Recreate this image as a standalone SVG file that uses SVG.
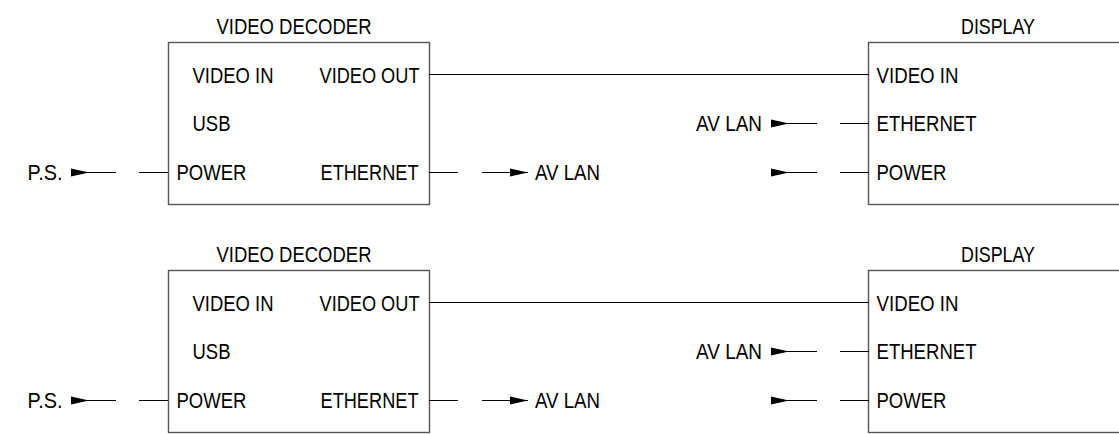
<svg xmlns="http://www.w3.org/2000/svg" width="1119" height="434" viewBox="0 0 1119 434">
<style>
text{font-family:"Liberation Sans",Arial,sans-serif;font-size:22px;fill:#000}
.box{fill:#fff;stroke:#555;stroke-width:1.4}
.ln{stroke:#000;stroke-width:1;fill:none}
</style>
<defs>
<marker id="hs" markerUnits="userSpaceOnUse" markerWidth="20" markerHeight="10" refX="0" refY="4" orient="auto" overflow="visible"><path d="M0,0 L18,4 L0,8 Z" fill="#000"/></marker>
<marker id="he" markerUnits="userSpaceOnUse" markerWidth="20" markerHeight="10" refX="18" refY="4" orient="auto" overflow="visible"><path d="M0,0 L18,4 L0,8 Z" fill="#000"/></marker>
</defs>
<g id="panel1">
<g id="decoder1">
<text x="216.5" y="33.5" textLength="155" lengthAdjust="spacingAndGlyphs">VIDEO DECODER</text>
<rect class="box" x="168.5" y="42.5" width="261" height="162"/>
<text x="192.5" y="83" textLength="81" lengthAdjust="spacingAndGlyphs">VIDEO IN</text>
<text x="319.5" y="83" textLength="100" lengthAdjust="spacingAndGlyphs">VIDEO OUT</text>
<text x="192.5" y="130.5" textLength="38" lengthAdjust="spacingAndGlyphs">USB</text>
<text x="176.5" y="179.5" textLength="70" lengthAdjust="spacingAndGlyphs">POWER</text>
<text x="320.5" y="179.5" textLength="98" lengthAdjust="spacingAndGlyphs">ETHERNET</text>
</g>
<g id="display1">
<text x="961" y="33.5" textLength="74" lengthAdjust="spacingAndGlyphs">DISPLAY</text>
<rect class="box" x="868.5" y="42.5" width="270" height="162"/>
<text x="876.5" y="83" textLength="82" lengthAdjust="spacingAndGlyphs">VIDEO IN</text>
<text x="876.5" y="130.5" textLength="100" lengthAdjust="spacingAndGlyphs">ETHERNET</text>
<text x="876.5" y="179.5" textLength="70" lengthAdjust="spacingAndGlyphs">POWER</text>
</g>
<g id="labels1">
<text x="27.5" y="179.5" textLength="35" lengthAdjust="spacingAndGlyphs">P.S.</text>
<text x="535" y="179.5" textLength="65" lengthAdjust="spacingAndGlyphs">AV LAN</text>
<text x="696" y="130.5" textLength="66" lengthAdjust="spacingAndGlyphs">AV LAN</text>
</g>
<g id="connectors1">
<path class="ln" d="M429,74.5 H869"/>
<path class="ln" d="M71,172.5 H116" marker-start="url(#hs)"/>
<path class="ln" d="M139,172.5 H168"/>
<path class="ln" d="M429,172.5 H458"/>
<path class="ln" d="M482,172.5 H528" marker-end="url(#he)"/>
<path class="ln" d="M771,123.5 H817" marker-start="url(#hs)"/>
<path class="ln" d="M840,123.5 H869"/>
<path class="ln" d="M771,172.5 H817" marker-start="url(#hs)"/>
<path class="ln" d="M840,172.5 H869"/>
</g>
</g>
<g id="panel2" transform="translate(0,228)">
<g id="decoder2">
<text x="216.5" y="33.5" textLength="155" lengthAdjust="spacingAndGlyphs">VIDEO DECODER</text>
<rect class="box" x="168.5" y="42.5" width="261" height="162"/>
<text x="192.5" y="83" textLength="81" lengthAdjust="spacingAndGlyphs">VIDEO IN</text>
<text x="319.5" y="83" textLength="100" lengthAdjust="spacingAndGlyphs">VIDEO OUT</text>
<text x="192.5" y="130.5" textLength="38" lengthAdjust="spacingAndGlyphs">USB</text>
<text x="176.5" y="179.5" textLength="70" lengthAdjust="spacingAndGlyphs">POWER</text>
<text x="320.5" y="179.5" textLength="98" lengthAdjust="spacingAndGlyphs">ETHERNET</text>
</g>
<g id="display2">
<text x="961" y="33.5" textLength="74" lengthAdjust="spacingAndGlyphs">DISPLAY</text>
<rect class="box" x="868.5" y="42.5" width="270" height="162"/>
<text x="876.5" y="83" textLength="82" lengthAdjust="spacingAndGlyphs">VIDEO IN</text>
<text x="876.5" y="130.5" textLength="100" lengthAdjust="spacingAndGlyphs">ETHERNET</text>
<text x="876.5" y="179.5" textLength="70" lengthAdjust="spacingAndGlyphs">POWER</text>
</g>
<g id="labels2">
<text x="27.5" y="179.5" textLength="35" lengthAdjust="spacingAndGlyphs">P.S.</text>
<text x="535" y="179.5" textLength="65" lengthAdjust="spacingAndGlyphs">AV LAN</text>
<text x="696" y="130.5" textLength="66" lengthAdjust="spacingAndGlyphs">AV LAN</text>
</g>
<g id="connectors2">
<path class="ln" d="M429,74.5 H869"/>
<path class="ln" d="M71,172.5 H116" marker-start="url(#hs)"/>
<path class="ln" d="M139,172.5 H168"/>
<path class="ln" d="M429,172.5 H458"/>
<path class="ln" d="M482,172.5 H528" marker-end="url(#he)"/>
<path class="ln" d="M771,123.5 H817" marker-start="url(#hs)"/>
<path class="ln" d="M840,123.5 H869"/>
<path class="ln" d="M771,172.5 H817" marker-start="url(#hs)"/>
<path class="ln" d="M840,172.5 H869"/>
</g>
</g>
</svg>
